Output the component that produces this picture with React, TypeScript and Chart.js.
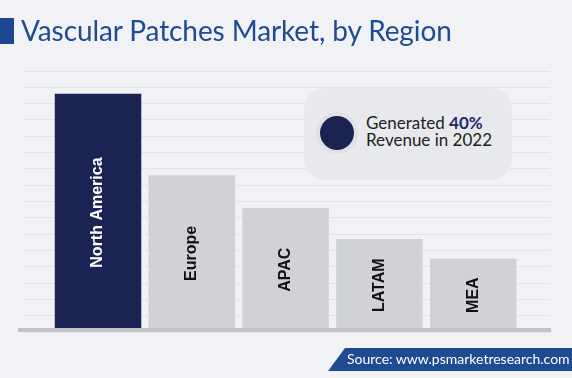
import React, { useEffect, useRef } from "react";
import { Chart, registerables } from "chart.js";

Chart.register(...registerables);

// ---- data ----
const regions: string[] = ["North America", "Europe", "APAC", "LATAM", "MEA"];
const revenueShare: number[] = [40, 26.3, 20.8, 15.6, 12.3];
const barColors: string[] = ["#1b2352", "#d0d2d8", "#d0d2d8", "#d0d2d8", "#d0d2d8"];
const labelColors: string[] = ["#ffffff", "#111111", "#111111", "#111111", "#111111"];
const gridSteps = 16;
const gridStep = 2.7375;

const titleText = "Vascular Patches Market, by Region";
const calloutLine1 = "Generated ";
const calloutValue = "40%";
const calloutLine2 = "Revenue in 2022";
const sourceText = "Source: www.psmarketresearch.com";

const barLabelPlugin = {
  id: "barLabels",
  afterDatasetsDraw(chart: any) {
    const ctx = chart.ctx;
    const meta = chart.getDatasetMeta(0);
    meta.data.forEach((bar: any, i: number) => {
      const cx = bar.x;
      const cy = (bar.y + bar.base) / 2;
      ctx.save();
      ctx.translate(cx, cy);
      ctx.rotate(-Math.PI / 2);
      ctx.font = "bold 16px 'Liberation Sans', Arial, sans-serif";
      ctx.fillStyle = labelColors[i];
      ctx.textAlign = "center";
      ctx.textBaseline = "middle";
      ctx.fillText(regions[i], 0, 0);
      ctx.restore();
    });
  },
};

const baselinePlugin = {
  id: "baseline",
  afterDatasetsDraw(chart: any) {
    const ctx = chart.ctx;
    const y = chart.scales.y.getPixelForValue(0);
    const { left, right } = chart.chartArea;
    ctx.save();
    ctx.fillStyle = "#c3c3c6";
    ctx.fillRect(left - 6, y - 4, right - left + 7, 4);
    ctx.restore();
  },
};

export default function App() {
  const canvasRef = useRef<HTMLCanvasElement | null>(null);

  useEffect(() => {
    document.body.style.margin = "0";
    const canvas = canvasRef.current;
    if (!canvas) return;
    const chart = new Chart(canvas, {
      type: "bar",
      data: {
        datasets: [
          {
            data: regions.map((_, i) => ({ x: i + 1, y: revenueShare[i] })),
            backgroundColor: barColors,
            borderWidth: 0,
            categoryPercentage: 1,
            barPercentage: 0.922,
          },
        ],
      },
      options: {
        responsive: false,
        animation: false,
        devicePixelRatio: 1,
        layout: { padding: { left: 24, right: 22, top: 71, bottom: 46 } },
        plugins: {
          legend: { display: false },
          tooltip: { enabled: false },
          title: { display: false },
        },
        scales: {
          x: {
            type: "linear",
            display: false,
            offset: false,
            min: 0.211,
            max: 5.818,
            grid: { offset: false },
            afterBuildTicks: (s: any) => {
              s.ticks = regions.map((_, i) => ({ value: i + 1 }));
            },
          },
          y: {
            min: 0,
            max: gridSteps * gridStep,
            afterFit: (s: any) => {
              s.width = 0;
            },
            ticks: { display: false, stepSize: gridStep },
            border: { display: false },
            grid: { color: "#e3e4e8", lineWidth: 1, drawTicks: false },
          },
        },
      },
      plugins: [barLabelPlugin, baselinePlugin],
    } as any);
    return () => chart.destroy();
  }, []);

  return (
    <div
      style={{
        position: "absolute",
        left: 0,
        top: 0,
        width: 572,
        height: 378,
        background: "#f1f2f6",
        overflow: "hidden",
        fontFamily: "Lato, 'Noto Sans', sans-serif",
      }}
    >
      <canvas
        ref={canvasRef}
        width={572}
        height={378}
        style={{ position: "absolute", left: 0, top: 0, width: 572, height: 378 }}
      />
      {/* title */}
      <div
        style={{
          position: "absolute",
          left: 0,
          top: 18,
          width: 14,
          height: 26,
          background: "#1e4591",
        }}
      />
      <div
        style={{
          position: "absolute",
          left: 21,
          top: 12,
          fontSize: 28,
          lineHeight: "36px",
          color: "#1e4b94",
          whiteSpace: "nowrap",
          letterSpacing: "-0.1px",
        }}
      >
        {titleText}
      </div>
      {/* callout */}
      <div
        style={{
          position: "absolute",
          left: 304,
          top: 88,
          width: 208,
          height: 92,
          borderRadius: 22,
          background: "#e8e9ed",
        }}
      />
      <div
        style={{
          position: "absolute",
          left: 316,
          top: 112,
          width: 42,
          height: 42,
          borderRadius: "50%",
          background: "#e0e1e5",
        }}
      />
      <div
        style={{
          position: "absolute",
          left: 320,
          top: 116,
          width: 34,
          height: 34,
          borderRadius: "50%",
          background: "#1b2352",
        }}
      />
      <div
        style={{
          position: "absolute",
          left: 366,
          top: 114,
          fontSize: 17,
          lineHeight: "17.4px",
          color: "#222222",
          whiteSpace: "nowrap",
        }}
      >
        <div>
          {calloutLine1}
          <span style={{ fontWeight: 700, color: "#1f2a6b" }}>{calloutValue}</span>
        </div>
        <div>{calloutLine2}</div>
      </div>
      {/* source banner */}
      <div
        style={{
          position: "absolute",
          left: 328,
          top: 348,
          width: 260,
          height: 23,
          background: "#1f4b93",
          clipPath: "polygon(17px 0, 100% 0, 100% 100%, 0 100%)",
        }}
      />
      <div
        style={{
          position: "absolute",
          left: 347,
          top: 350,
          fontSize: 14,
          lineHeight: "18px",
          color: "#ffffff",
          whiteSpace: "nowrap",
        }}
      >
        {sourceText}
      </div>
    </div>
  );
}
